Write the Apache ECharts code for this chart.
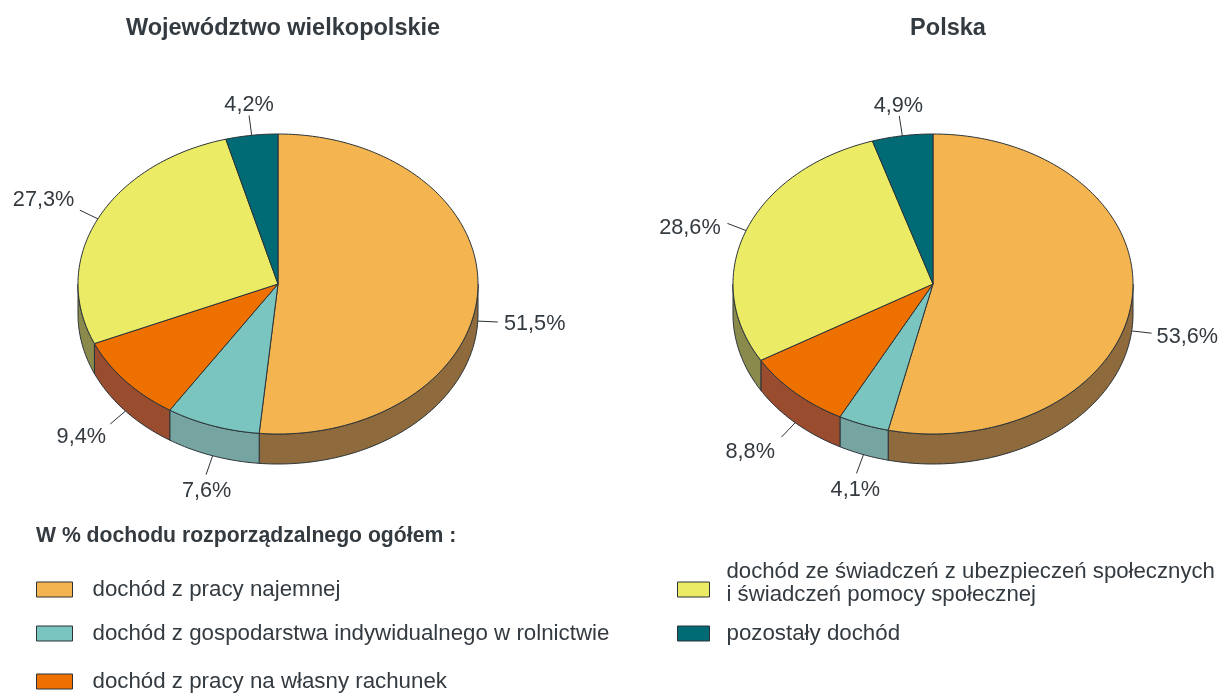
<!DOCTYPE html>
<html lang="pl">
<head>
    <meta charset="UTF-8">
    <title>Dochód rozporządzalny</title>
    <script src="https://cdn.jsdelivr.net/npm/echarts@6/dist/echarts.min.js"></script>
    <style>
        html, body { margin: 0; padding: 0; background: #fff; }
    </style>
</head>
<body>
<div id="chartContainer" style="width:1218px;height:693px;"></div>
<script type="text/javascript">
    // dane
    var regions = ['Województwo wielkopolskie', 'Polska'];
    var categories = [
        'dochód z pracy najemnej',
        'dochód z gospodarstwa indywidualnego w rolnictwie',
        'dochód z pracy na własny rachunek',
        'dochód ze świadczeń z ubezpieczeń społecznych\ni świadczeń pomocy społecznej',
        'pozostały dochód'
    ];
    var wielkopolskie = [51.5, 7.6, 9.4, 27.3, 4.2];
    var polska = [53.6, 4.1, 8.8, 28.6, 4.9];

    var colors = ['#F4B550', '#7AC5BF', '#EE7100', '#ECEB66', '#006B75'];
    var wallColors = ['#8E6A3C', '#76A5A1', '#9A4C2E', '#8A8A4C', '#004B52'];

    // geometria "3D" - elipsa + bok
    var pieX = [278, 933];
    var pieY = 284;
    var rx = 200;
    var ry = 150;
    var depth = 30;
    var lineColor = '#2b3338';
    var textColor = '#333a40';
    var font = '"Liberation Sans", Arial, sans-serif';

    // korekty polozenia podpisow [dx, dy]
    var labelNudge = [
        [[-1, 1], [13, 2], [0, 3], [-2, -4], [5, 4]],
        [[-2, 2], [12, 3], [-5, 4], [-2, 10], [5, 5]]
    ];
    var legendPos = [
        {left: 36, top: 578},
        {left: 36, top: 622},
        {left: 36, top: 670},
        {left: 677, top: 560},
        {left: 677, top: 622}
    ];

    function rimPoint(cx, deg, dy) {
        var a = deg * Math.PI / 180;
        return [cx + rx * Math.sin(a), pieY - ry * Math.cos(a) + (dy || 0)];
    }

    function arcPoints(cx, from, to, dy) {
        var pts = [];
        var n = Math.max(2, Math.ceil(Math.abs(to - from)));
        for (var i = 0; i <= n; i++) {
            pts.push(rimPoint(cx, from + (to - from) * i / n, dy));
        }
        return pts;
    }

    function renderSlice(params, api) {
        var pie = api.value(0);
        var idx = params.seriesIndex;
        var values = pie === 0 ? wielkopolskie : polska;
        var cx = pieX[pie];
        var total = values.reduce(function (a, b) { return a + b; }, 0);
        var before = 0;
        for (var i = 0; i < idx; i++) before += values[i];
        var start = before / total * 360;
        var end = (before + api.value(1)) / total * 360;
        var mid = (start + end) / 2;
        var children = [];

        // bok - tylko przednia polowa elipsy
        var wallFrom = Math.max(start, 90);
        var wallTo = Math.min(end, 270);
        if (wallTo > wallFrom) {
            var top = arcPoints(cx, wallFrom, wallTo, 0);
            var bottom = arcPoints(cx, wallTo, wallFrom, depth);
            children.push({
                type: 'polygon',
                shape: {points: top.concat(bottom)},
                style: {fill: wallColors[idx], stroke: lineColor, lineWidth: 1}
            });
        }

        children.push({
            type: 'polygon',
            shape: {points: [[cx, pieY]].concat(arcPoints(cx, start, end, 0))},
            style: {fill: colors[idx], stroke: lineColor, lineWidth: 1}
        });

        // linia i podpis
        var a = mid * Math.PI / 180;
        var sin = Math.sin(a);
        var cos = Math.cos(a);
        var from = rimPoint(cx, mid, cos < 0 ? depth : 0);
        var to = [from[0] + sin * 20, from[1] - cos * 20];
        var nudge = labelNudge[pie][idx];
        children.push({
            type: 'line',
            shape: {x1: from[0], y1: from[1], x2: to[0], y2: to[1]},
            style: {stroke: lineColor, lineWidth: 1}
        });
        children.push({
            type: 'text',
            x: to[0] + sin * 38 + nudge[0],
            y: to[1] - cos * 15 + nudge[1],
            style: {
                text: api.value(1).toFixed(1).replace('.', ',') + '%',
                fill: textColor,
                font: '21.7px ' + font,
                align: 'center',
                verticalAlign: 'middle'
            }
        });
        return {type: 'group', children: children};
    }

    var chartDom = document.getElementById('chartContainer');
    var myChart = echarts.init(chartDom);

    var titleStyle = {fontFamily: font, fontSize: 23.5, fontWeight: 'bold', color: textColor};

    var option = {
        animation: false,
        backgroundColor: '#fff',
        title: [
            {text: regions[0], left: 283, top: 17, padding: 0, textAlign: 'center', textStyle: titleStyle},
            {text: regions[1], left: 948, top: 17, padding: 0, textAlign: 'center', textStyle: titleStyle},
            {text: 'W % dochodu rozporządzalnego ogółem :', left: 36, top: 526, padding: 0, textStyle: {fontFamily: font, fontSize: 21.2, fontWeight: 'bold', color: textColor}}
        ],
        // osobna legenda dla kazdej pozycji, bo odstepy sa nierowne
        legend: categories.map(function (name, i) {
            return {
                data: [name],
                left: legendPos[i].left,
                top: legendPos[i].top,
                orient: 'vertical',
                padding: 0,
                itemWidth: i > 2 ? 32 : 36,
                itemHeight: 15,
                selectedMode: false,
                icon: 'rect',
                itemStyle: {borderColor: lineColor, borderWidth: 1},
                // dwuwierszowa pozycja stoi wyzej niz jej kwadracik
                formatter: function (text) {
                    if (text.indexOf('\n') < 0) return text;
                    return text.split('\n').map(function (line) {
                        return '{t|' + line + '}';
                    }).join('\n') + '\n{s| }';
                },
                textStyle: {
                    fontFamily: font,
                    fontSize: 22.3,
                    lineHeight: 23,
                    color: textColor,
                    padding: [0, 0, 0, i > 2 ? 12 : 15],
                    rich: {
                        t: {fontFamily: font, fontSize: 22.2, lineHeight: 23, color: textColor},
                        s: {fontSize: 1, lineHeight: 13}
                    }
                }
            };
        }),
        series: categories.map(function (name, i) {
            return {
                name: name,
                type: 'custom',
                coordinateSystem: 'none',
                silent: true,
                itemStyle: {color: colors[i]},
                renderItem: renderSlice,
                data: [[0, wielkopolskie[i]], [1, polska[i]]]
            };
        })
    };
    option && myChart.setOption(option);
</script>
</body>
</html>
